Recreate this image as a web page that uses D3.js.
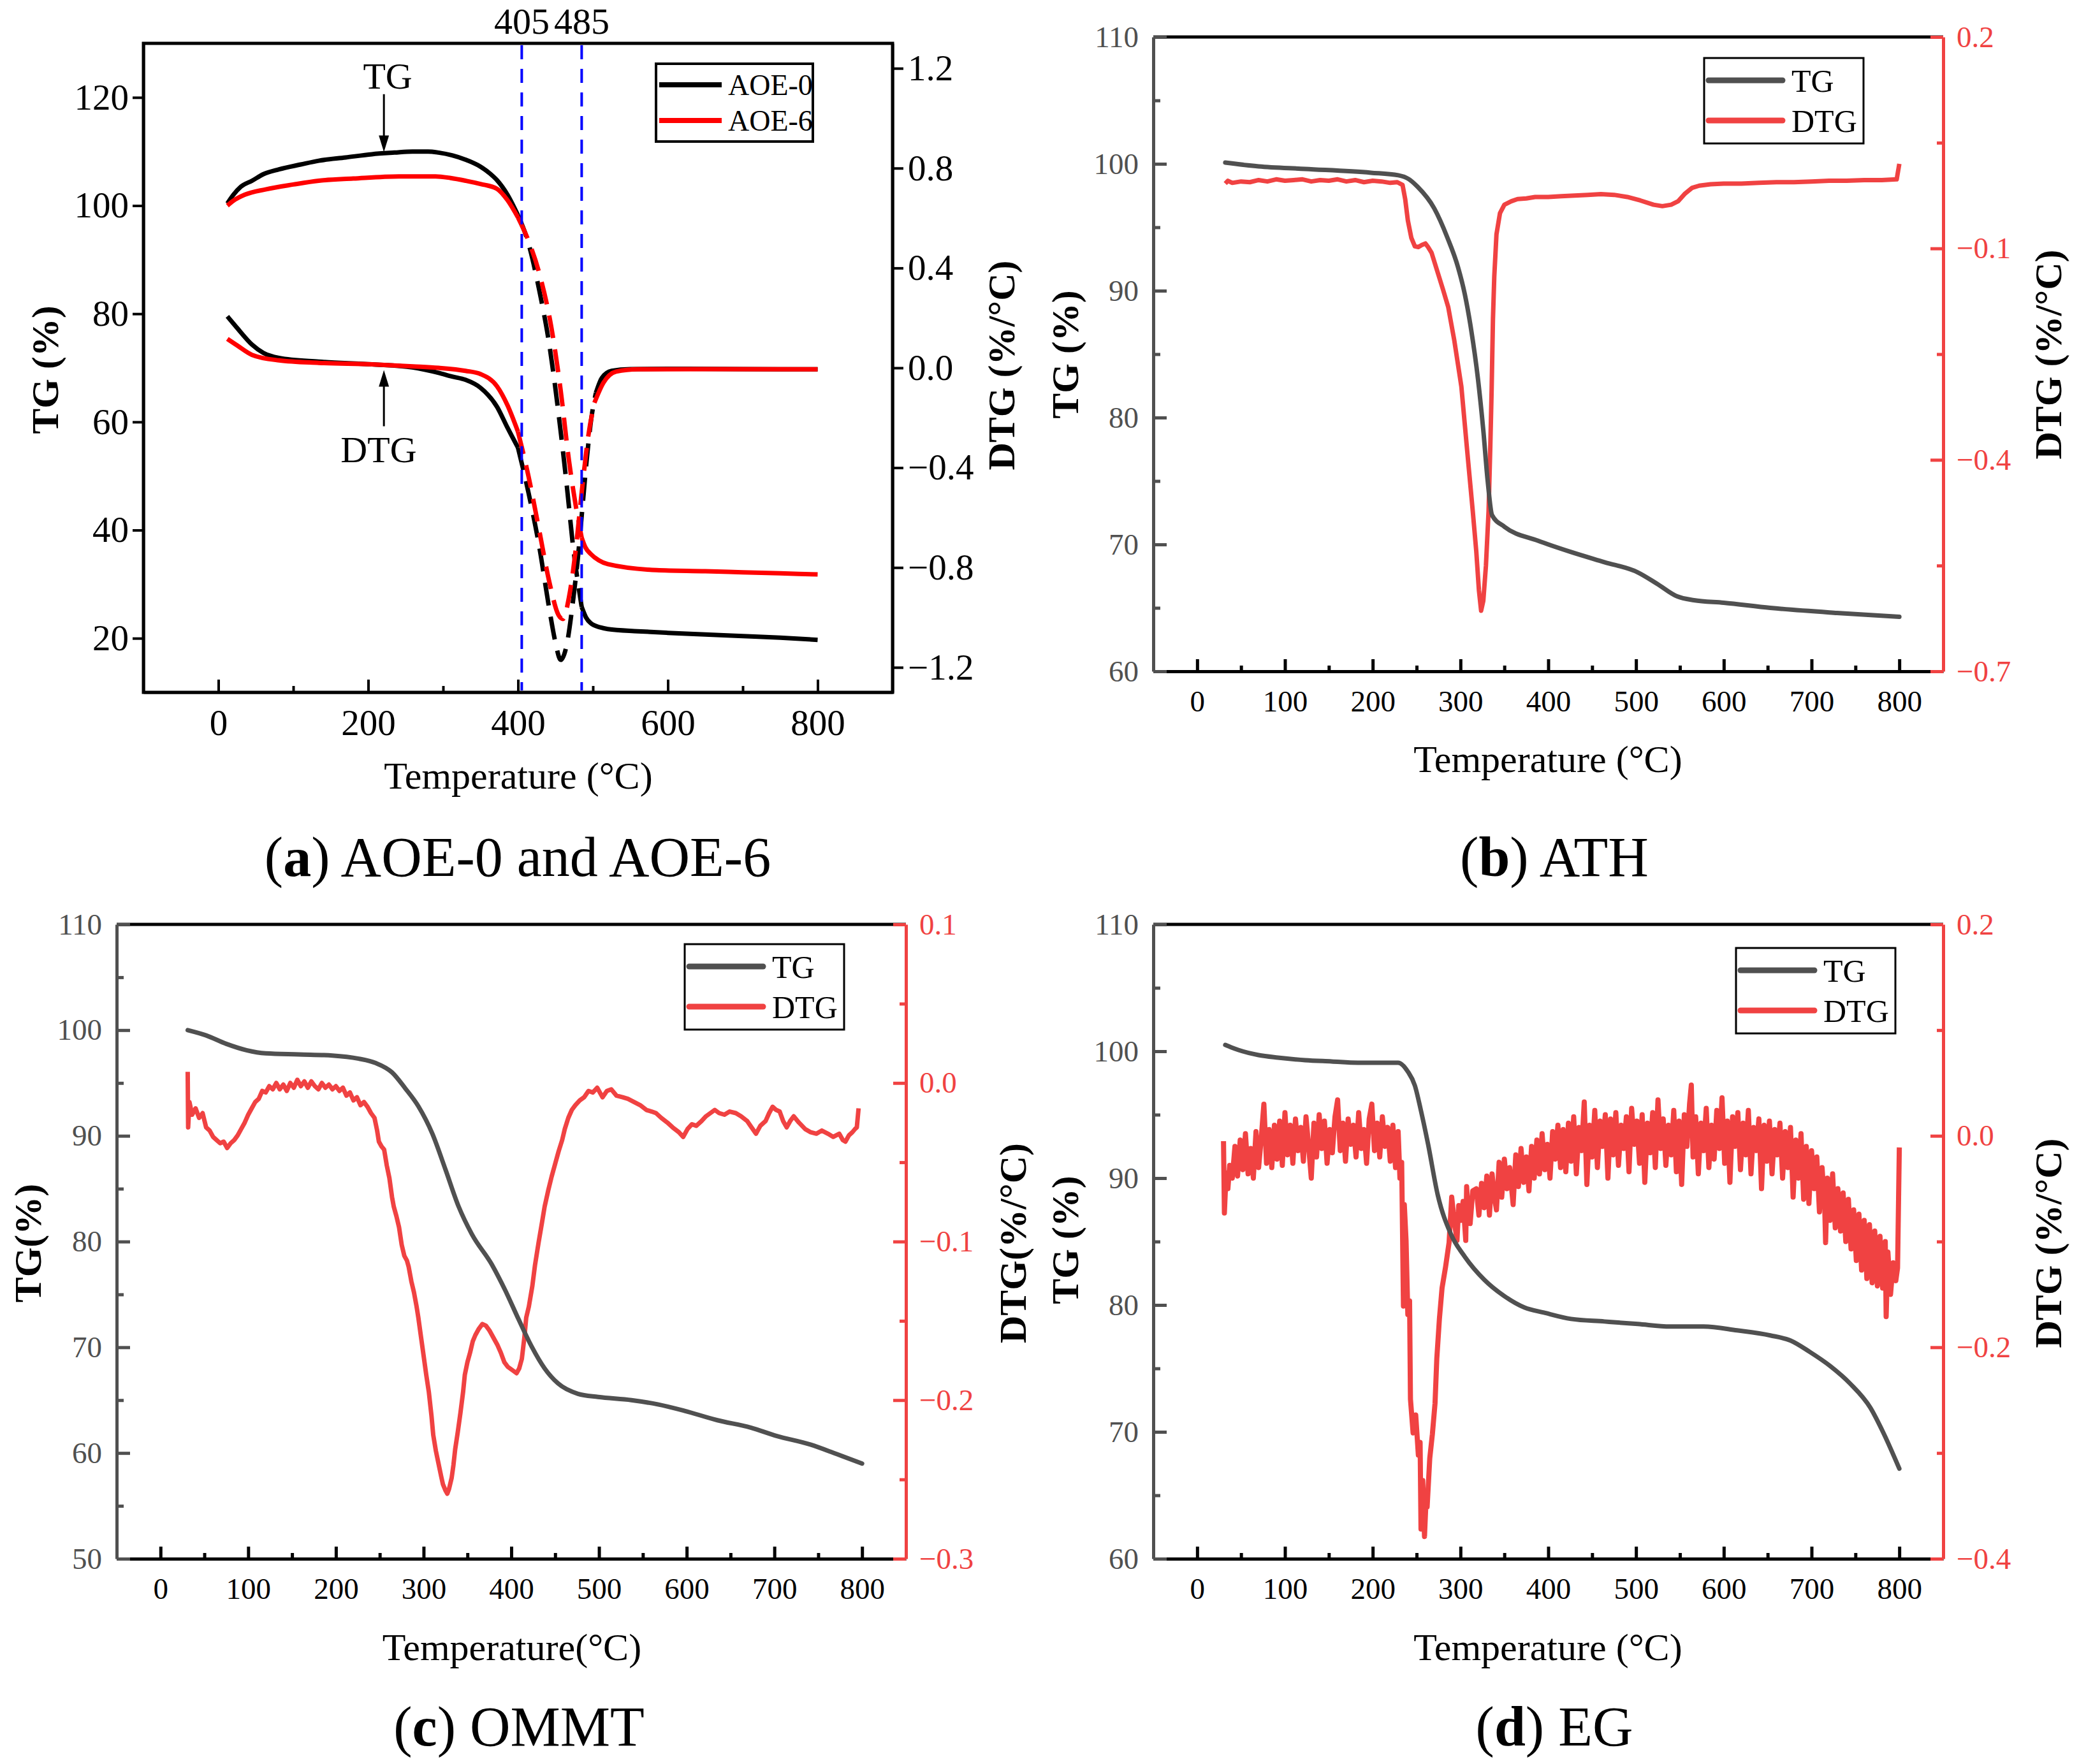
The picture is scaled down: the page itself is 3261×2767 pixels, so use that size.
<!DOCTYPE html>
<html>
<head>
<meta charset="utf-8">
<script src="https://cdn.jsdelivr.net/npm/d3@7"></script>
<style>
  body { margin: 0; background: #fff; }
  svg { display: block; }
</style>
</head>
<body>
<svg id="fig" width="3261" height="2767"></svg>
<script>
// ---------- data (temperature °C, value) ----------

// (a) AOE-0 / AOE-6, TG in %, DTG in %/°C
const aoe0TG = [[12,100.4],[20,102.0],[30,103.5],[45,104.6],[60,105.8],[81,106.7],[110,107.6],[134,108.3],[170,108.9],[205,109.5],[235,109.8],[259,110.0],[280,110.0],[294,109.8],[312,109.3],[330,108.5],[350,107.2],[362,106.0],[372,104.7],[386,102.0],[400,98.2],[414,93.0],[428,84.6],[442,74.1],[457,58.2],[465,48.4],[474,36.4],[480,30.3],[485,25.8],[491,23.8],[497,22.8],[510,22.0],[520,21.7],[560,21.3],[600,21.0],[650,20.7],[700,20.4],[750,20.1],[800,19.7]];
const aoe6TG = [[12,100.0],[20,100.9],[35,102.0],[63,103.0],[100,103.9],[134,104.6],[180,105.0],[241,105.4],[290,105.4],[310,105.1],[330,104.6],[350,104.0],[372,103.1],[386,101.0],[400,97.8],[414,93.5],[428,87.7],[445,77.1],[457,65.8],[468,52.9],[477,44.6],[485,38.6],[490,36.8],[497,35.6],[508,34.4],[520,33.7],[585,32.6],[650,32.4],[700,32.2],[750,32.0],[800,31.8]];
const aoe0DTG = [[12,0.206],[25,0.16],[45,0.093],[60,0.06],[81,0.04],[134,0.025],[205,0.014],[259,0.002],[294,-0.02],[312,-0.035],[330,-0.048],[350,-0.08],[372,-0.156],[386,-0.24],[400,-0.32],[414,-0.50],[428,-0.71],[442,-0.97],[450,-1.10],[457,-1.17],[465,-1.11],[474,-0.92],[480,-0.76],[486,-0.56],[492,-0.36],[498,-0.20],[504,-0.10],[512,-0.04],[525,-0.012],[550,-0.005],[600,-0.004],[700,-0.005],[800,-0.006]];
const aoe6DTG = [[12,0.116],[25,0.09],[45,0.052],[81,0.03],[134,0.02],[205,0.014],[260,0.006],[294,0.0],[330,-0.012],[350,-0.025],[372,-0.074],[386,-0.15],[400,-0.256],[414,-0.434],[428,-0.646],[442,-0.86],[454,-0.99],[460,-1.006],[468,-0.92],[477,-0.73],[485,-0.50],[494,-0.27],[502,-0.14],[514,-0.06],[531,-0.015],[560,-0.006],[650,-0.005],[800,-0.006]];
const aMarks = [405, 485];

// (b) ATH
const athTG = [[32,100.1],[70,99.8],[123,99.6],[198,99.3],[229,99.1],[241,98.8],[251,98.2],[270,96.5],[285,94.2],[297,91.9],[305,89.7],[312,87.0],[320,83.0],[326,79.0],[331,75.0],[336,72.3],[350,71.4],[388,70.3],[426,69.4],[464,68.6],[502,67.8],[524,66.9],[547,65.9],[566,65.6],[600,65.4],[653,65.0],[729,64.6],[800,64.3]];
const athDTG = [[32,-0.008],[35,-0.004],[40,-0.007],[50,-0.005],[60,-0.006],[70,-0.003],[80,-0.005],[90,-0.002],[100,-0.004],[110,-0.003],[120,-0.002],[130,-0.005],[140,-0.003],[150,-0.004],[160,-0.002],[170,-0.005],[180,-0.003],[190,-0.006],[200,-0.004],[210,-0.005],[220,-0.007],[228,-0.006],[234,-0.01],[237,-0.03],[240,-0.06],[244,-0.085],[248,-0.097],[252,-0.098],[256,-0.095],[260,-0.093],[263,-0.098],[267,-0.106],[274,-0.134],[280,-0.158],[286,-0.183],[293,-0.231],[301,-0.296],[308,-0.392],[314,-0.473],[318,-0.53],[321,-0.585],[323.5,-0.614],[326,-0.60],[329,-0.55],[332,-0.473],[334,-0.38],[335.5,-0.3],[337,-0.2],[338.5,-0.14],[341,-0.08],[345,-0.05],[350,-0.038],[358,-0.033],[365,-0.03],[375,-0.029],[385,-0.027],[400,-0.027],[415,-0.026],[430,-0.025],[445,-0.024],[460,-0.023],[475,-0.024],[490,-0.027],[505,-0.032],[520,-0.038],[530,-0.040],[540,-0.038],[548,-0.033],[556,-0.022],[564,-0.014],[572,-0.011],[585,-0.009],[600,-0.008],[620,-0.008],[640,-0.007],[660,-0.006],[680,-0.006],[700,-0.005],[720,-0.004],[740,-0.004],[760,-0.003],[780,-0.003],[797,-0.002],[800,0.02]];

// (c) OMMT
const ommtTG = [[31,100.0],[52,99.5],[75,98.7],[98,98.1],[120,97.8],[158,97.7],[196,97.6],[226,97.3],[245,96.9],[264,96.0],[279,94.5],[294,92.8],[310,90.2],[325,86.8],[340,83.3],[355,80.7],[378,77.8],[393,75.4],[408,72.7],[423,70.1],[438,68.0],[453,66.6],[476,65.6],[499,65.3],[537,65.0],[567,64.6],[597,64.0],[635,63.1],[673,62.4],[703,61.6],[741,60.8],[771,59.9],[800,59.0]];
const ommtDTG = [[31,0.007],[31.5,-0.028],[33,-0.012],[36,-0.02],[40,-0.016],[44,-0.022],[48,-0.019],[52,-0.028],[56,-0.03],[60,-0.034],[64,-0.036],[68,-0.038],[72,-0.037],[76,-0.041],[80,-0.038],[84,-0.036],[88,-0.033],[92,-0.029],[96,-0.025],[100,-0.02],[104,-0.016],[108,-0.012],[112,-0.010],[116,-0.005],[120,-0.006],[124,-0.002],[128,-0.004],[132,0.0],[136,-0.004],[140,-0.001],[144,-0.005],[148,0.0],[152,-0.003],[156,0.002],[160,-0.002],[164,0.001],[168,-0.003],[172,0.001],[176,-0.002],[180,-0.004],[184,0.0],[188,-0.003],[192,-0.001],[196,-0.004],[200,-0.002],[204,-0.005],[208,-0.003],[212,-0.008],[216,-0.006],[220,-0.011],[224,-0.009],[228,-0.014],[232,-0.012],[236,-0.015],[240,-0.019],[244,-0.022],[247,-0.030],[249,-0.037],[252,-0.040],[255,-0.042],[258,-0.052],[261,-0.060],[264,-0.072],[266,-0.078],[269,-0.084],[272,-0.091],[275,-0.102],[278,-0.109],[281,-0.112],[283,-0.116],[286,-0.125],[289,-0.132],[292,-0.141],[294,-0.148],[297,-0.160],[300,-0.172],[303,-0.184],[306,-0.195],[309,-0.210],[311,-0.222],[314,-0.232],[317,-0.240],[320,-0.248],[322,-0.253],[325,-0.257],[327,-0.259],[329,-0.256],[332,-0.249],[334,-0.241],[336,-0.231],[339,-0.220],[342,-0.208],[345,-0.195],[347,-0.184],[350,-0.176],[353,-0.170],[356,-0.163],[359,-0.159],[363,-0.155],[367,-0.152],[371,-0.153],[375,-0.156],[379,-0.160],[384,-0.165],[388,-0.170],[392,-0.176],[396,-0.179],[401,-0.181],[406,-0.183],[409,-0.180],[412,-0.174],[415,-0.160],[417,-0.148],[420,-0.141],[424,-0.128],[427,-0.115],[431,-0.101],[435,-0.088],[438,-0.078],[442,-0.068],[446,-0.059],[450,-0.051],[454,-0.043],[458,-0.036],[461,-0.029],[465,-0.022],[469,-0.017],[473,-0.014],[478,-0.011],[483,-0.009],[488,-0.005],[493,-0.006],[498,-0.003],[504,-0.009],[509,-0.005],[514,-0.004],[520,-0.008],[527,-0.009],[533,-0.010],[540,-0.012],[547,-0.014],[554,-0.017],[560,-0.018],[565,-0.019],[571,-0.022],[578,-0.025],[584,-0.028],[591,-0.031],[596,-0.034],[601,-0.029],[606,-0.026],[611,-0.027],[617,-0.024],[622,-0.021],[627,-0.019],[632,-0.017],[637,-0.019],[643,-0.020],[649,-0.018],[656,-0.019],[662,-0.021],[669,-0.024],[674,-0.028],[679,-0.032],[684,-0.027],[690,-0.024],[694,-0.019],[698,-0.015],[702,-0.017],[706,-0.018],[710,-0.024],[714,-0.028],[718,-0.024],[722,-0.021],[728,-0.025],[735,-0.029],[741,-0.031],[748,-0.032],[754,-0.030],[761,-0.032],[767,-0.034],[774,-0.032],[778,-0.036],[781,-0.037],[785,-0.033],[789,-0.031],[792,-0.029],[794,-0.028],[796,-0.016]];

// (d) EG
const egTG = [[32,100.5],[39,100.3],[47,100.1],[70,99.7],[92,99.5],[123,99.3],[153,99.2],[183,99.1],[214,99.1],[229,99.1],[240,98.4],[248,97.3],[255,95.3],[263,92.7],[274,88.7],[289,85.6],[305,83.8],[327,82.0],[350,80.7],[373,79.8],[395,79.4],[426,78.9],[464,78.7],[502,78.5],[539,78.3],[577,78.3],[615,78.0],[653,77.6],[676,77.2],[698,76.3],[721,75.2],[744,73.8],[767,71.9],[782,69.9],[800,67.1]];
const egDTG = [[30,-0.005],[31,-0.073],[33,-0.035],[35,-0.05],[37,-0.028],[40,-0.040],[43,-0.010],[46,-0.038],[49,-0.004],[52,-0.032],[55,0.002],[58,-0.036],[61,-0.012],[64,-0.040],[67,0.004],[70,-0.030],[73,-0.002],[76,0.030],[79,-0.026],[82,0.006],[85,-0.030],[88,0.010],[91,-0.022],[94,0.014],[97,-0.028],[100,0.022],[103,-0.018],[106,0.010],[109,-0.026],[112,0.016],[115,-0.014],[118,0.008],[121,-0.024],[124,0.018],[127,-0.010],[130,-0.040],[133,0.012],[136,-0.020],[139,0.020],[142,-0.012],[145,0.014],[148,-0.026],[151,0.006],[154,-0.016],[157,0.018],[160,0.034],[163,-0.014],[166,0.012],[169,-0.024],[172,0.016],[175,-0.008],[178,0.010],[181,-0.020],[184,0.022],[187,-0.012],[190,0.006],[193,-0.026],[196,0.016],[199,0.030],[202,-0.014],[205,0.012],[208,-0.020],[211,0.018],[214,-0.010],[217,0.008],[220,-0.024],[223,0.010],[226,-0.030],[229,0.004],
  [231,-0.040],[233,-0.025],[235,-0.161],[236,-0.065],[238,-0.099],[240,-0.169],[242,-0.156],[243,-0.249],[246,-0.281],[249,-0.264],[252,-0.302],[254,-0.290],[255,-0.372],[257,-0.326],[259,-0.379],[261,-0.340],[262,-0.351],[265,-0.305],[268,-0.282],[271,-0.253],[273,-0.211],[276,-0.173],[279,-0.144],[283,-0.124],[287,-0.101],[290,-0.058],[293,-0.081],[296,-0.099],[298,-0.066],[300,-0.080],[303,-0.062],[306,-0.099],[307,-0.048],[309,-0.075],[311,-0.083],[314,-0.052],[318,-0.050],[321,-0.075],[324,-0.045],[327,-0.068],[330,-0.038],[333,-0.075],[336,-0.036],[339,-0.060],[341,-0.070],[344,-0.025],[347,-0.058],[350,-0.022],[353,-0.050],[356,-0.030],[360,-0.065],[363,-0.018],[366,-0.048],[369,-0.012],[372,-0.044],[375,-0.020],[378,-0.052],[381,-0.010],[384,-0.040],[387,-0.004],[390,-0.036],[393,0.002],[396,-0.032],[399,-0.008],[402,-0.040],[405,0.004],[408,-0.022],[411,0.010],[414,-0.030],[417,0.006],[420,-0.034],
  [423,0.012],[426,-0.024],[429,0.018],[432,-0.036],[435,0.008],[438,-0.014],[441,0.032],[444,-0.046],[447,0.010],[450,-0.020],[453,0.024],[456,-0.030],[459,0.014],[462,-0.010],[465,0.020],[468,-0.040],[471,0.016],[474,-0.018],[477,0.022],[480,-0.028],[483,0.010],[486,-0.012],[489,0.018],[492,-0.034],[495,0.026],[498,-0.008],[501,0.014],[504,-0.026],[507,0.020],[510,-0.044],[513,0.012],[516,-0.016],[519,0.022],[522,-0.030],[525,0.034],[528,-0.012],[531,0.016],[534,-0.028],[537,0.010],[540,-0.018],[543,0.024],[546,-0.034],[549,0.014],[552,-0.046],[555,0.020],[558,-0.010],[561,0.030],[563,0.048],[565,-0.020],[568,0.018],[571,-0.036],[574,0.012],[577,-0.014],[580,0.026],[583,-0.030],[586,0.010],[589,-0.022],[592,0.024],[595,-0.012],[598,0.036],[601,-0.026],[604,0.014],[607,-0.044],[610,0.018],[613,-0.010],[616,0.022],[619,-0.032],[622,0.012],[625,-0.018],[628,0.024],[631,-0.036],[634,0.008],[637,-0.014],[640,0.016],[643,-0.050],[646,0.010],[649,-0.024],[652,0.014],[655,-0.036],[658,0.006],[661,-0.018],[664,0.012],[667,-0.040],[670,0.004],[673,-0.030],[676,0.008],[679,-0.058],[682,-0.004],[685,-0.040],[688,0.002],[691,-0.060],[694,-0.010],[697,-0.064],[700,-0.014],[703,-0.050],[706,-0.020],[709,-0.072],[712,-0.030],[715,-0.068],[716,-0.101],[718,-0.040],[721,-0.080],[724,-0.036],[727,-0.087],[730,-0.050],[733,-0.090],[736,-0.054],[739,-0.100],[742,-0.060],[745,-0.107],[748,-0.070],[751,-0.118],[754,-0.074],[757,-0.127],[760,-0.080],[763,-0.135],[766,-0.084],[769,-0.139],[772,-0.090],[775,-0.142],[778,-0.095],[781,-0.144],[784,-0.100],[785,-0.171],[787,-0.110],[790,-0.150],[793,-0.120],[796,-0.137],[798,-0.125],[800,-0.011]];

// tick values
const aTempTicks = [0, 200, 400, 600, 800];
const aTempMinor = [100, 300, 500, 700];
const aTgTicks = [20, 40, 60, 80, 100, 120];
const aDtgTicks = [-1.2, -0.8, -0.4, 0.0, 0.4, 0.8, 1.2];
const tempTicks = [0, 100, 200, 300, 400, 500, 600, 700, 800];
const tempMinor = [50, 150, 250, 350, 450, 550, 650, 750];

// ---------- drawing ----------
const svg = d3.select("#fig");
const SERIF = "'Liberation Serif', 'Times New Roman', serif";
const GRAY = "#505050", RED = "#f04242";

svg.append("rect").attr("width", 3261).attr("height", 2767).attr("fill", "#fff");

function styleAxis(g, color, size, sw) {
  g.attr("font-family", SERIF).attr("font-size", size);
  g.selectAll(".domain").attr("stroke", color).attr("stroke-width", sw);
  g.selectAll(".tick line").attr("stroke", color).attr("stroke-width", sw);
  g.selectAll(".tick text").attr("fill", color);
  return g;
}

function caption(cx, y, letter, rest) {
  const t = svg.append("text").attr("x", cx).attr("y", y)
    .attr("text-anchor", "middle").attr("font-family", SERIF).attr("font-size", 88);
  t.append("tspan").text("(");
  t.append("tspan").attr("font-weight", "bold").text(letter);
  t.append("tspan").text(")" + rest);
}

function vTitle(cx, cy, label) {
  svg.append("text").attr("transform", `translate(${cx},${cy}) rotate(-90)`)
    .attr("text-anchor", "middle").attr("dy", "0.35em")
    .attr("font-family", SERIF).attr("font-size", 60).attr("font-weight", "bold")
    .text(label);
}

function hTitle(cx, y, label) {
  svg.append("text").attr("x", cx).attr("y", y).attr("text-anchor", "middle")
    .attr("font-family", SERIF).attr("font-size", 60).text(label);
}

// ----- panel (a) -----
(function panelA() {
  const L = 225, R = 1400, T = 68, B = 1086;
  const x = d3.scaleLinear().domain([-100, 900]).range([L, R]);
  const yL = d3.scaleLinear().domain([10, 130]).range([B, T]);
  const yR = d3.scaleLinear().domain([-1.3, 1.3]).range([B, T]);
  const g = svg.append("g");

  g.append("g").attr("transform", `translate(0,${B})`)
    .call(d3.axisBottom(x).tickValues(aTempMinor).tickSize(-10).tickFormat(""))
    .call(a => a.select(".domain").remove())
    .call(a => styleAxis(a, "#000", 57, 4));
  g.append("g").attr("transform", `translate(0,${B})`)
    .call(d3.axisBottom(x).tickValues(aTempTicks).tickSize(-20).tickSizeOuter(0).tickPadding(27).tickFormat(d3.format("d")))
    .call(a => styleAxis(a, "#000", 57, 4));
  g.append("g").attr("transform", `translate(${L},0)`)
    .call(d3.axisLeft(yL).tickValues(aTgTicks).tickSize(17).tickSizeOuter(0).tickPadding(6).tickFormat(d3.format("d")))
    .call(a => styleAxis(a, "#000", 57, 4));
  g.append("g").attr("transform", `translate(${R},0)`)
    .call(d3.axisRight(yR).tickValues(aDtgTicks).tickSize(17).tickSizeOuter(0).tickPadding(7).tickFormat(d3.format(".1f")))
    .call(a => styleAxis(a, "#000", 57, 4));
  g.append("rect").attr("x", L).attr("y", T).attr("width", R - L).attr("height", B - T)
    .attr("fill", "none").attr("stroke", "#000").attr("stroke-width", 5);

  function pieces(data, t1, t2) {
    return [
      { pts: data.filter(d => d[0] <= t1), dash: null },
      { pts: data.filter(d => d[0] >= t1 && d[0] <= t2), dash: "36,18" },
      { pts: data.filter(d => d[0] >= t2), dash: null }
    ];
  }
  const series = [
    { data: aoe0DTG, y: yR, color: "#000", t1: 400, t2: 504 },
    { data: aoe0TG, y: yL, color: "#000", t1: 400, t2: 485 },
    { data: aoe6DTG, y: yR, color: "#ff0000", t1: 400, t2: 502 },
    { data: aoe6TG, y: yL, color: "#ff0000", t1: 400, t2: 485 }
  ];
  series.forEach(s => {
    const line = d3.line().x(d => x(d[0])).y(d => s.y(d[1])).curve(d3.curveMonotoneX);
    pieces(s.data, s.t1, s.t2).forEach(p => {
      g.append("path").attr("d", line(p.pts)).attr("fill", "none")
        .attr("stroke", s.color).attr("stroke-width", 7)
        .attr("stroke-dasharray", p.dash).attr("stroke-linejoin", "round");
    });
  });

  // marker lines at 405 and 485 °C
  aMarks.forEach(m => {
    g.append("line").attr("x1", x(m)).attr("x2", x(m)).attr("y1", T + 3).attr("y2", B - 3)
      .attr("stroke", "#0000ff").attr("stroke-width", 4).attr("stroke-dasharray", "22,15");
    g.append("text").attr("x", x(m)).attr("y", 53).attr("text-anchor", "middle")
      .attr("font-family", SERIF).attr("font-size", 58).text(m);
  });

  // annotations
  function arrow(t, from, to) {
    const ax = x(t), y1 = yL(from), y2 = yL(to);
    const dir = y2 > y1 ? 1 : -1;
    g.append("line").attr("x1", ax).attr("x2", ax).attr("y1", y1).attr("y2", y2 - dir * 18)
      .attr("stroke", "#000").attr("stroke-width", 3);
    g.append("path").attr("d", `M${ax},${y2} L${ax - 8},${y2 - dir * 26} L${ax + 8},${y2 - dir * 26} Z`)
      .attr("fill", "#000");
  }
  arrow(221, 120.6, 109.9);
  arrow(221, 59.2, 69.6);
  g.append("text").attr("x", x(226)).attr("y", yL(121.6)).attr("text-anchor", "middle")
    .attr("font-family", SERIF).attr("font-size", 58).text("TG");
  g.append("text").attr("x", x(214)).attr("y", yL(52.5)).attr("text-anchor", "middle")
    .attr("font-family", SERIF).attr("font-size", 58).text("DTG");

  // legend
  const lg = g.append("g");
  lg.append("rect").attr("x", 1029).attr("y", 100).attr("width", 246).attr("height", 122)
    .attr("fill", "#fff").attr("stroke", "#000").attr("stroke-width", 4);
  [["AOE-0", "#000", 133], ["AOE-6", "#ff0000", 189]].forEach(([name, c, ly]) => {
    lg.append("line").attr("x1", 1034).attr("x2", 1132).attr("y1", ly).attr("y2", ly)
      .attr("stroke", c).attr("stroke-width", 8);
    lg.append("text").attr("x", 1142).attr("y", ly).attr("dy", "0.35em")
      .attr("font-family", SERIF).attr("font-size", 46).text(name);
  });

  hTitle(813, 1237, "Temperature (\u00B0C)");
  vTitle(70, 580, "TG (%)");
  vTitle(1570, 573, "DTG (%/\u00B0C)");
  caption(812, 1374, "a", " AOE-0 and AOE-6");
})();

// ----- panels (b), (c), (d) -----
function dualPanel(p) {
  const x = d3.scaleLinear().domain([-50, 850]).range([p.left, p.right]);
  const yL = d3.scaleLinear().domain(p.tgDomain).range([p.bottom, p.top]);
  const yR = d3.scaleLinear().domain(p.dtgDomain).range([p.bottom, p.top]);
  const g = svg.append("g");

  // top frame line
  g.append("line").attr("x1", p.left).attr("x2", p.right).attr("y1", p.top).attr("y2", p.top)
    .attr("stroke", "#000").attr("stroke-width", 5);

  // curves
  g.append("path").attr("d", d3.line().x(d => x(d[0])).y(d => yR(d[1]))(p.dtg))
    .attr("fill", "none").attr("stroke", RED).attr("stroke-width", p.dtgWidth)
    .attr("stroke-linejoin", "round");
  g.append("path").attr("d", d3.line().x(d => x(d[0])).y(d => yL(d[1])).curve(d3.curveMonotoneX)(p.tg))
    .attr("fill", "none").attr("stroke", GRAY).attr("stroke-width", 7).attr("stroke-linecap", "round");

  // bottom axis
  g.append("g").attr("transform", `translate(0,${p.bottom})`)
    .call(d3.axisBottom(x).tickValues(tempMinor).tickSize(-9).tickFormat(""))
    .call(a => a.select(".domain").remove())
    .call(a => styleAxis(a, "#000", 47, 5));
  g.append("g").attr("transform", `translate(0,${p.bottom})`)
    .call(d3.axisBottom(x).tickValues(tempTicks).tickSize(-19).tickSizeOuter(0).tickPadding(30).tickFormat(d3.format("d")))
    .call(a => styleAxis(a, "#000", 47, 5));

  // left axis (TG)
  g.append("g").attr("transform", `translate(${p.left},0)`)
    .call(d3.axisLeft(yL).tickValues(p.tgMinor).tickSize(-11).tickFormat(""))
    .call(a => a.select(".domain").remove())
    .call(a => styleAxis(a, GRAY, 47, 5));
  g.append("g").attr("transform", `translate(${p.left},0)`)
    .call(d3.axisLeft(yL).tickValues(p.tgTicks).tickSize(-21).tickSizeOuter(0).tickPadding(23).tickFormat(d3.format("d")))
    .call(a => styleAxis(a, GRAY, 47, 5));

  // right axis (DTG)
  g.append("g").attr("transform", `translate(${p.right},0)`)
    .call(d3.axisRight(yR).tickValues(p.dtgMinor).tickSize(-10).tickFormat(""))
    .call(a => a.select(".domain").remove())
    .call(a => styleAxis(a, RED, 47, 5));
  g.append("g").attr("transform", `translate(${p.right},0)`)
    .call(d3.axisRight(yR).tickValues(p.dtgTicks).tickSize(-20).tickSizeOuter(0).tickPadding(21).tickFormat(d3.format(".1f")))
    .call(a => styleAxis(a, RED, 47, 5));

  // legend
  const [bx, by] = p.legend;
  g.append("rect").attr("x", bx).attr("y", by).attr("width", 250).attr("height", 134)
    .attr("fill", "#fff").attr("stroke", "#000").attr("stroke-width", 3);
  [["TG", GRAY, 35], ["DTG", RED, 98]].forEach(([name, c, dy]) => {
    g.append("line").attr("x1", bx + 7).attr("x2", bx + 123).attr("y1", by + dy).attr("y2", by + dy)
      .attr("stroke", c).attr("stroke-width", 9).attr("stroke-linecap", "round");
    g.append("text").attr("x", bx + 137).attr("y", by + dy).attr("dy", "0.35em")
      .attr("font-family", SERIF).attr("font-size", 50).text(name);
  });

  hTitle(p.xTitle[0], p.xTitle[1], p.xLabel);
  vTitle(p.yTitle[0], p.yTitle[1], p.yLabel);
  vTitle(p.rTitle[0], p.rTitle[1], p.rLabel);
  caption(p.cap[0], p.cap[1], p.letter, p.capText);
}

dualPanel({
  left: 1809, right: 3048, top: 58, bottom: 1053,
  tg: athTG, dtg: athDTG, dtgWidth: 7,
  tgDomain: [60, 110], tgTicks: [60, 70, 80, 90, 100, 110], tgMinor: [65, 75, 85, 95, 105],
  dtgDomain: [-0.7, 0.2], dtgTicks: [-0.7, -0.4, -0.1, 0.2], dtgMinor: [-0.55, -0.25, 0.05],
  legend: [2673, 91],
  xTitle: [2428, 1211], yTitle: [1670, 556], rTitle: [3212, 556], cap: [2438, 1374],
  xLabel: "Temperature (\u00B0C)", yLabel: "TG (%)", rLabel: "DTG (%/\u00B0C)",
  letter: "b", capText: " ATH"
});

dualPanel({
  left: 183, right: 1421, top: 1450, bottom: 2445,
  tg: ommtTG, dtg: ommtDTG, dtgWidth: 7,
  tgDomain: [50, 110], tgTicks: [50, 60, 70, 80, 90, 100, 110], tgMinor: [55, 65, 75, 85, 95, 105],
  dtgDomain: [-0.3, 0.1], dtgTicks: [-0.3, -0.2, -0.1, 0.0, 0.1], dtgMinor: [-0.25, -0.15, -0.05, 0.05],
  legend: [1074, 1481],
  xTitle: [803, 2604], yTitle: [43, 1950], rTitle: [1588, 1950], cap: [814, 2738],
  xLabel: "Temperature(\u00B0C)", yLabel: "TG(%)", rLabel: "DTG(%/\u00B0C)",
  letter: "c", capText: " OMMT"
});

dualPanel({
  left: 1809, right: 3048, top: 1450, bottom: 2445,
  tg: egTG, dtg: egDTG, dtgWidth: 8,
  tgDomain: [60, 110], tgTicks: [60, 70, 80, 90, 100, 110], tgMinor: [65, 75, 85, 95, 105],
  dtgDomain: [-0.4, 0.2], dtgTicks: [-0.4, -0.2, 0.0, 0.2], dtgMinor: [-0.3, -0.1, 0.1],
  legend: [2723, 1487],
  xTitle: [2428, 2604], yTitle: [1670, 1945], rTitle: [3212, 1950], cap: [2438, 2738],
  xLabel: "Temperature (\u00B0C)", yLabel: "TG (%)", rLabel: "DTG (%/\u00B0C)",
  letter: "d", capText: " EG"
});
</script>
</body>
</html>
